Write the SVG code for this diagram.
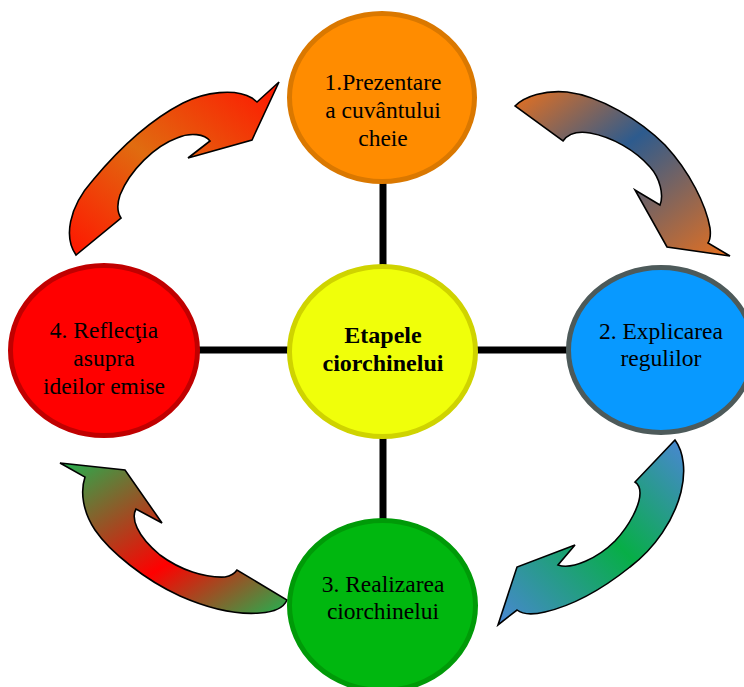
<svg xmlns="http://www.w3.org/2000/svg" width="744" height="687" viewBox="0 0 744 687">
<defs>
<style>
.t{font-family:"Liberation Serif","Times New Roman",serif;font-size:23.5px;fill:#000;text-anchor:middle}
.b{font-weight:bold;font-size:24px}
.arr{stroke:#000;stroke-width:1.6;stroke-linejoin:miter}
.ln{stroke:#000;stroke-width:7}
.nd{stroke-width:5}
</style>
<linearGradient id="g1" x1="0" y1="1" x2="1" y2="0"><stop offset="0" stop-color="#ff1500"/><stop offset="0.47" stop-color="#e06c10"/><stop offset="1" stop-color="#ff1500"/></linearGradient>
<linearGradient id="g2" x1="0" y1="0" x2="1" y2="1"><stop offset="0" stop-color="#e8701e"/><stop offset="0.42" stop-color="#2d5b8e"/><stop offset="1" stop-color="#e8701e"/></linearGradient>
<linearGradient id="g3" x1="1" y1="0" x2="0" y2="1"><stop offset="0" stop-color="#4a86d4"/><stop offset="0.46" stop-color="#07ae47"/><stop offset="1" stop-color="#4a86d4"/></linearGradient>
<linearGradient id="g4" x1="0" y1="0" x2="1" y2="1"><stop offset="0" stop-color="#22b150"/><stop offset="0.57" stop-color="#ff0000"/><stop offset="1" stop-color="#22b150"/></linearGradient>
</defs>
<rect width="744" height="687" fill="#fff"/>
<g id="connectors">
<line class="ln" x1="383" y1="180" x2="383" y2="268"/>
<line class="ln" x1="383" y1="435" x2="383" y2="522"/>
<line class="ln" x1="196" y1="350" x2="290" y2="350"/>
<line class="ln" x1="475" y1="350" x2="570" y2="350"/>
<path id="arrow1" class="arr" fill="url(#g1)" d="M 76,255 C 64,238 68,208 93,180 C 118,150 150,120 183,103 C 205,92 235,88 252,98 L 257,102 L 279,82 L 252,140 L 188,158 L 210,141 C 205,134 190,132 177,138 C 155,146 130,170 120,195 C 117,204 117,212 121,218 Z"/>
<path id="arrow2" class="arr" fill="url(#g2)" d="M 515,106 C 525,96 545,90 567,92 C 600,96 640,120 665,145 C 690,172 706,205 710,228 C 711,236 710,240 708,243 L 730,256 L 667,247 L 635,190 L 660,205 C 664,195 660,178 650,167 C 635,150 612,137 590,133 C 578,131 568,134 563,141 Z"/>
<path id="arrow3" class="arr" fill="url(#g3)" d="M 675,440 C 684,452 686,472 681,492 C 674,520 655,548 630,567 C 605,587 575,605 545,612 C 532,615 522,614 517,610 L 498,625 L 517,567 L 575,545 L 558,565 C 572,570 598,558 615,541 C 630,525 640,505 640,493 C 640,488 638,484 635,482 Z"/>
<path id="arrow4" class="arr" fill="url(#g4)" d="M 60,463 L 125,470 L 162,523 L 136,509 C 131,518 136,535 160,555 C 180,570 205,578 225,577 C 231,576 235,573 237,570 L 287,600 C 284,607 275,612 260,613 C 235,615 205,607 180,596 C 145,580 110,552 95,530 C 83,512 80,492 85,477 Z"/>
</g>
<g id="node1">
<ellipse class="nd" cx="382" cy="97.5" rx="92.5" ry="84" fill="#ff8c00" stroke="#da7800"/>
<text class="t" x="383" y="90">1.Prezentare</text>
<text class="t" x="383" y="118">a cuvântului</text>
<text class="t" x="383" y="146">cheie</text>
</g>
<g id="node2">
<ellipse class="nd" cx="661" cy="350" rx="92.5" ry="82.5" fill="#0899ff" stroke="#4d5a5a"/>
<text class="t" x="661" y="339">2. Explicarea</text>
<text class="t" x="661" y="366">regulilor</text>
</g>
<g id="node3">
<ellipse class="nd" cx="382.5" cy="605.5" rx="93" ry="85" fill="#00b70f" stroke="#009a08"/>
<text class="t" x="383" y="592">3. Realizarea</text>
<text class="t" x="383" y="619">ciorchinelui</text>
</g>
<g id="node4">
<ellipse class="nd" cx="104" cy="350.5" rx="93.5" ry="85" fill="#ff0000" stroke="#c00000"/>
<text class="t" x="104" y="338">4. Reflecţia</text>
<text class="t" x="104" y="366">asupra</text>
<text class="t" x="104" y="394">ideilor emise</text>
</g>
<g id="center">
<ellipse class="nd" cx="382.5" cy="351.5" rx="93" ry="85" fill="#f0ff0a" stroke="#cfd300"/>
<text class="t b" x="383" y="343">Etapele</text>
<text class="t b" x="383" y="371">ciorchinelui</text>
</g>
</svg>
